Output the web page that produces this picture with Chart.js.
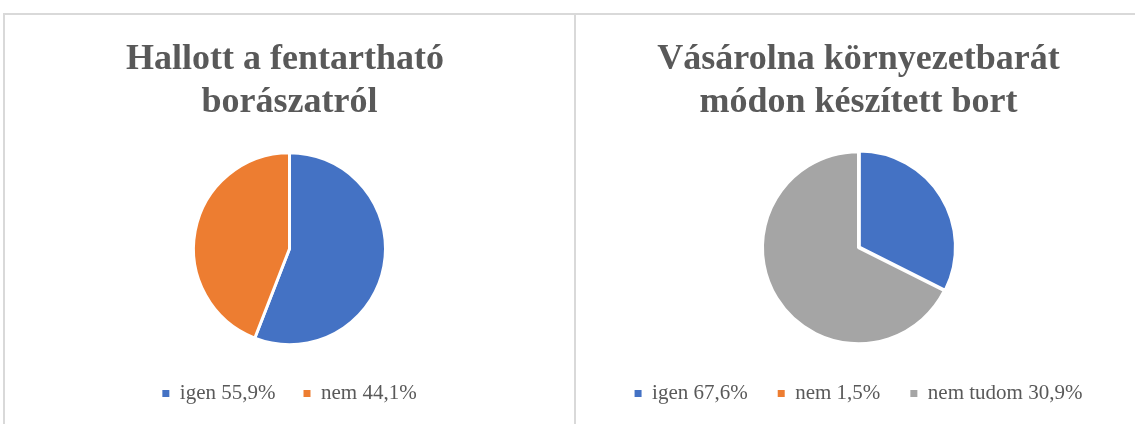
<!DOCTYPE html>
<html>
<head>
<meta charset="utf-8">
<script src="https://cdn.jsdelivr.net/npm/chart.js@4/dist/chart.umd.min.js"></script>
<style>
  html, body { margin: 0; padding: 0; background: #fff; overflow: hidden; width: 1135px; height: 424px; }
  .line { position: absolute; background: #d9d9d9; }
  .box { position: absolute; top: 15px; height: 432px; }
</style>
</head>
<body>
<div class="line" style="left:3px; top:13px; width:1140px; height:2px;"></div>
<div class="line" style="left:3px; top:13px; width:2px; height:420px;"></div>
<div class="line" style="left:574px; top:13px; width:2px; height:420px;"></div>
<div class="box" style="left:5px; width:569px;"><canvas id="chart_left"></canvas></div>
<div class="box" style="left:576px; width:565px;"><canvas id="chart_right"></canvas></div>
<script>
// left chart
const leftTitle = ["Hallott a fentartható ", "borászatról"];
const leftLabels = ["igen 55,9%", "nem 44,1%"];
const leftValues = [55.9, 44.1];

// right chart (slices as drawn in the picture)
const rightTitle = ["Vásárolna környezetbarát", "módon készített bort"];
const rightLabels = ["igen 67,6%", "nem 1,5%", "nem tudom 30,9%"];
const rightValues = [32.4, 0, 67.6];

const sliceColors = ["#4472c4", "#ed7d31", "#a5a5a5"];

function makePie(canvasId, title, labels, values, offsets, legendGap) {
  const ctx = document.getElementById(canvasId).getContext("2d");
  return new Chart(ctx, {
    type: "pie",
    data: {
      labels: labels,
      datasets: [
        {
          data: values,
          backgroundColor: sliceColors,
          borderColor: "#ffffff",
          borderWidth: 3,
          offset: offsets,
          radius: 96,
        },
      ],
    },
    options: {
      animation: false,
      responsive: true,
      maintainAspectRatio: false,
      layout: { padding: { bottom: 33 } },
      plugins: {
        title: {
          display: true,
          text: title,
          color: "#595959",
          font: { family: "'Liberation Serif', 'Times New Roman', serif", size: 36, weight: "bold", lineHeight: 1.2 },
          padding: { top: 23, bottom: 18 },
        },
        legend: {
          display: true,
          position: "bottom",
          labels: {
            color: "#595959",
            font: { family: "'Liberation Serif', 'Times New Roman', serif", size: 21 },
            boxWidth: 7,
            boxHeight: 7,
            padding: legendGap,
            generateLabels: function (chart) {
              const items = Chart.overrides.pie.plugins.legend.labels.generateLabels(chart);
              items.forEach((it) => { it.lineWidth = 0; it.hidden = false; });
              return items;
            },
          },
        },
        tooltip: { enabled: false },
      },
    },
  });
}

makePie("chart_left", leftTitle, leftLabels, leftValues, [0, 0], 28);
makePie("chart_right", rightTitle, rightLabels, rightValues, [4, 0, 0], 30);
</script>
</body>
</html>
